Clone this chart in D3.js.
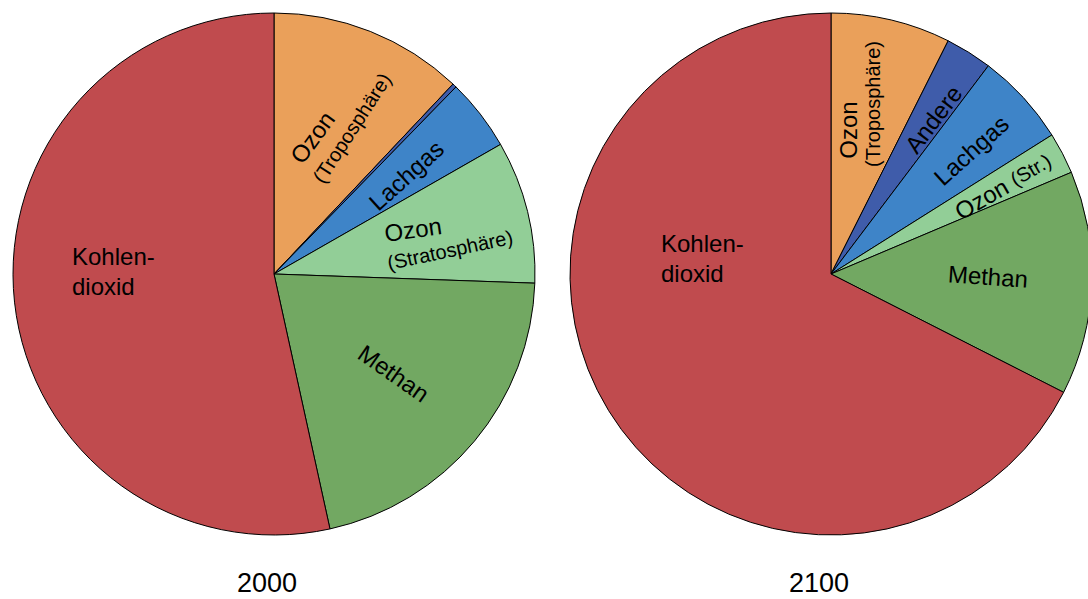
<!DOCTYPE html>
<html>
<head>
<meta charset="utf-8">
<script src="https://cdn.jsdelivr.net/npm/d3@7"></script>
<style>
  body { margin: 0; background: #fff; }
  text { font-family: "Liberation Sans", Arial, sans-serif; fill: #000; }
</style>
</head>
<body>
<div id="chart"></div>
<script>
// clockwise from 12 o'clock
var categories = ["Ozon (Troposphäre)", "Andere", "Lachgas", "Ozon (Stratosphäre)", "Methan", "Kohlendioxid"];
var values2000 = [12.03, 0.25, 4.45, 8.83, 21.0, 53.44];
var values2100 = [7.41, 2.89, 5.76, 2.57, 13.86, 67.51];
var years = ["2000", "2100"];
var colors = ["#EAA05A", "#3F5CAA", "#3E84C8", "#92CE97", "#72A862", "#C04B4E"];

// label layout, offsets from the pie center
var labels2000 = [
    { parts: [["Ozon", 24]], dx: 38, dy: -137, rot: -54 },
    { parts: [["(Troposphäre)", 20]], dx: 78, dy: -146, rot: -57 },
    { parts: [["Lachgas", 24]], dx: 132, dy: -99, rot: -42 },
    { parts: [["Ozon", 24]], dx: 139, dy: -45, rot: -8 },
    { parts: [["(Stratosphäre)", 20]], dx: 176, dy: -24, rot: -12 },
    { parts: [["Methan", 24]], dx: 120, dy: 99, rot: 35 },
    { parts: [["Kohlen-", 24]], dx: -202, dy: -9, rot: 0, start: true },
    { parts: [["dioxid", 24]], dx: -202, dy: 21, rot: 0, start: true }
];
var labels2100 = [
    { parts: [["Ozon", 24]], dx: 17, dy: -144, rot: -90 },
    { parts: [["(Troposphäre)", 20]], dx: 42, dy: -170, rot: -90 },
    { parts: [["Andere", 24]], dx: 102, dy: -155, rot: -53 },
    { parts: [["Lachgas", 24]], dx: 140, dy: -124, rot: -42 },
    { parts: [["Ozon ", 24], ["(Str.)", 20]], dx: 172, dy: -88, rot: -30 },
    { parts: [["Methan", 24]], dx: 157, dy: 2, rot: 4 },
    { parts: [["Kohlen-", 24]], dx: -170, dy: -22, rot: 0, start: true },
    { parts: [["dioxid", 24]], dx: -170, dy: 8, rot: 0, start: true }
];

var width = 1088, height = 599;
var radius = 261, cy = 274;
var titleShift = [-7, -12];

var svg = d3.select("#chart").append("svg")
    .attr("width", width)
    .attr("height", height);

var x = d3.scalePoint().domain(years).range([274, 831]);
var color = d3.scaleOrdinal().domain(categories).range(colors);

var pie = d3.pie().sort(null).value(function (d) { return d.value; });
var arc = d3.arc().innerRadius(0).outerRadius(radius);

var series = [values2000, values2100];
var labelSets = [labels2000, labels2100];

years.forEach(function (year, k) {
    var data = categories.map(function (c, i) {
        return { name: c, value: series[k][i] };
    });

    var g = svg.append("g")
        .attr("transform", "translate(" + x(year) + "," + cy + ")");

    g.selectAll(".slice")
        .data(pie(data))
        .enter().append("path")
        .attr("class", "slice")
        .attr("d", arc)
        .attr("fill", function (d) { return color(d.data.name); })
        .attr("stroke", "#000")
        .attr("stroke-width", 1)
        .attr("stroke-linejoin", "round");

    var lab = g.selectAll(".lab")
        .data(labelSets[k])
        .enter().append("text")
        .attr("class", "lab")
        .attr("transform", function (d) {
            return "translate(" + d.dx + "," + d.dy + ") rotate(" + d.rot + ")";
        })
        .attr("text-anchor", function (d) { return d.start ? "start" : "middle"; })
        .attr("dominant-baseline", function (d) { return d.start ? "alphabetic" : "central"; });

    lab.each(function (d) {
        var t = d3.select(this);
        d.parts.forEach(function (p) {
            t.append("tspan").style("font-size", p[1] + "px").text(p[0]);
        });
    });

    svg.append("text")
        .attr("x", x(year) + titleShift[k])
        .attr("y", 592)
        .attr("text-anchor", "middle")
        .style("font-size", "27px")
        .text(year);
});
</script>
</body>
</html>
